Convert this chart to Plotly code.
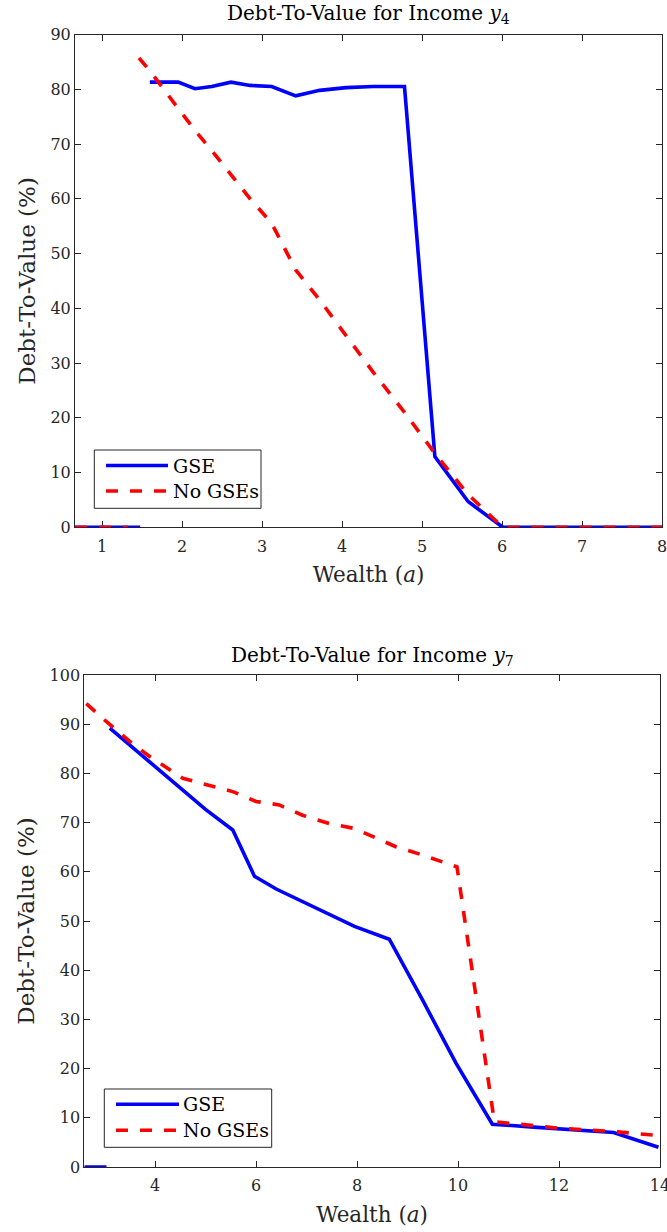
import plotly.graph_objects as go

# ---------------- data ----------------
# Income y4 (top panel)
wealth_gse_y4 = [0.66, 1.0, 1.32, 1.475, None, 1.596, 1.95, 2.16, 2.37, 2.61, 2.85, 3.12,
                 3.42, 3.72, 4.05, 4.39, 4.78, 5.16, 5.575, 6.01, 6.5, 7.0, 7.5, 8.0]
dtv_gse_y4 = [0, 0, 0, 0, None, 81.3, 81.3, 80.1, 80.5, 81.3, 80.7, 80.5,
              78.8, 79.8, 80.3, 80.5, 80.5, 12.9, 4.7, 0, 0, 0, 0, 0]

wealth_nogse_y4 = [0.66, 1.0, 1.32, None, 1.46, 1.6, 1.95, 2.16, 2.37, 2.61, 2.85, 3.12,
                   3.42, 3.72, 4.05, 4.39, 4.78, 5.16, 5.575, 6.01, 6.5, 7.0, 7.5, 8.0]
dtv_nogse_y4 = [0, 0, 0, None, 85.7, 83.3, 76.5, 72.5, 68.8, 64.5, 60.0, 55.5,
                47.0, 41.5, 35.0, 28.3, 21.0, 13.5, 6.0, 0, 0, 0, 0, 0]

# Income y7 (bottom panel)
wealth_gse_y7 = [2.6, 2.8, 3.04, None, 3.105, 4.0, 4.55, 5.0, 5.54, 5.97, 6.4, 6.86,
                 7.45, 7.95, 8.64, 9.3, 9.96, 10.68, 11.5, 12.3, 13.08, 13.97]
dtv_gse_y7 = [0, 0, 0, None, 89.2, 81.5, 76.8, 72.7, 68.5, 59.1, 56.5, 54.2,
              51.3, 48.9, 46.3, 33.9, 21.1, 8.7, 8.1, 7.6, 7.0, 4.0]

wealth_nogse_y7 = [2.64, 3.04, 3.5, 3.9, 4.55, 5.15, 5.54, 6.0, 6.46, 6.92, 7.45, 7.95,
                   8.38, 8.77, 9.3, 9.98, 10.72, 12.0, 13.08, 13.97]
dtv_nogse_y7 = [94.2, 90.5, 86.5, 83.4, 79.0, 77.3, 76.3, 74.3, 73.6, 71.5, 69.8, 68.8,
                66.8, 65.1, 63.4, 61.0, 9.2, 7.9, 7.2, 6.4]

series_names = ["GSE", "No GSEs"]
x_ticks_top = [1, 2, 3, 4, 5, 6, 7, 8]
y_ticks_top = list(range(0, 91, 10))
x_ticks_bot = [4, 6, 8, 10, 12, 14]
y_ticks_bot = list(range(0, 101, 10))

# ---------------- style ----------------
W, H = 667, 1232
FONT = "DejaVu Serif"
AX = "#262626"
BLUE = "#0000FF"
RED = "#FF0000"
LW = 3.6


def px(x):
    return x / W


def py(y):
    return 1 - y / H


fig = go.Figure()

fig.add_trace(go.Scatter(x=wealth_gse_y4, y=dtv_gse_y4, mode="lines", name=series_names[0],
                         line=dict(color=BLUE, width=LW), cliponaxis=False,
                         connectgaps=False, showlegend=False, xaxis="x", yaxis="y"))
fig.add_trace(go.Scatter(x=wealth_nogse_y4, y=dtv_nogse_y4, mode="lines", name=series_names[1],
                         line=dict(color=RED, width=LW, dash="12px,12px"), cliponaxis=False,
                         connectgaps=False, showlegend=False, xaxis="x", yaxis="y"))
fig.add_trace(go.Scatter(x=wealth_gse_y7, y=dtv_gse_y7, mode="lines", name=series_names[0],
                         line=dict(color=BLUE, width=LW), cliponaxis=False,
                         connectgaps=False, showlegend=False, xaxis="x2", yaxis="y2"))
fig.add_trace(go.Scatter(x=wealth_nogse_y7, y=dtv_nogse_y7, mode="lines", name=series_names[1],
                         line=dict(color=RED, width=LW, dash="12px,12px"), cliponaxis=False,
                         connectgaps=False, showlegend=False, xaxis="x2", yaxis="y2"))

axis_common = dict(showline=True, linecolor=AX, linewidth=1, mirror="ticks", ticks="inside",
                   ticklen=6, tickwidth=1, tickcolor=AX, showgrid=False, zeroline=False,
                   automargin=False, ticklabeloverflow="allow",
                   tickfont=dict(family=FONT, size=16, color=AX), layer="below traces")
xlab_font = dict(family=FONT, size=21.5, color=AX)
ylab_font = dict(family=FONT, size=23, color=AX)

top_l, top_r, top_t, top_b = 75, 662, 34.5, 527.3
bot_l, bot_r, bot_t, bot_b = 84.3, 660, 675, 1167

fig.update_layout(
    template="none",
    width=W, height=H, margin=dict(l=0, r=0, t=0, b=0, pad=0),
    paper_bgcolor="white", plot_bgcolor="white", showlegend=False,
    xaxis=dict(axis_common, domain=[px(top_l), px(top_r)], range=[0.66, 8],
               tickvals=x_ticks_top, anchor="y", ticklabelstandoff=4,
               title=dict(text="Wealth (<i>a</i>)", font=xlab_font, standoff=12)),
    yaxis=dict(axis_common, domain=[py(top_b), py(top_t)], range=[0, 90],
               tickvals=y_ticks_top, anchor="x",
               title=dict(text="Debt-To-Value (%)", font=ylab_font, standoff=8)),
    xaxis2=dict(axis_common, domain=[px(bot_l), px(bot_r)], range=[2.6, 14],
                tickvals=x_ticks_bot, anchor="y2", ticklabelstandoff=4,
                title=dict(text="Wealth (<i>a</i>)", font=xlab_font, standoff=12)),
    yaxis2=dict(axis_common, domain=[py(bot_b), py(bot_t)], range=[0, 100],
                tickvals=y_ticks_bot, anchor="x2",
                title=dict(text="Debt-To-Value (%)", font=ylab_font, standoff=8)),
)

# titles
fig.add_annotation(text="Debt-To-Value for Income <i>y</i><sub>4</sub>", xref="paper", yref="paper",
                   x=px((top_l + top_r) / 2), y=py(29), xanchor="center", yanchor="bottom",
                   showarrow=False, font=dict(family=FONT, size=20, color="black"))
fig.add_annotation(text="Debt-To-Value for Income <i>y</i><sub>7</sub>", xref="paper", yref="paper",
                   x=px((bot_l + bot_r) / 2), y=py(671), xanchor="center", yanchor="bottom",
                   showarrow=False, font=dict(family=FONT, size=20, color="black"))


# legends (drawn as boxes with line samples and text)
def add_legend(bx0, by0, bx1, by1, lx0, lx1, ly1, ly2, tx):
    fig.add_shape(type="rect", xref="paper", yref="paper", x0=px(bx0), x1=px(bx1),
                  y0=py(by1), y1=py(by0), line=dict(color=AX, width=1), fillcolor="white")
    fig.add_shape(type="line", xref="paper", yref="paper", x0=px(lx0), x1=px(lx1),
                  y0=py(ly1), y1=py(ly1), line=dict(color=BLUE, width=LW))
    fig.add_shape(type="line", xref="paper", yref="paper", x0=px(lx0), x1=px(lx1),
                  y0=py(ly2), y1=py(ly2), line=dict(color=RED, width=LW, dash="12px,12px"))
    for name, yy in zip(series_names, [ly1, ly2]):
        fig.add_annotation(text=name, xref="paper", yref="paper", x=px(tx), y=py(yy),
                           xanchor="left", yanchor="middle", showarrow=False,
                           font=dict(family=FONT, size=19, color="black"))


add_legend(94.3, 450, 261, 508.3, 106, 168, 465.5, 491, 171)
add_legend(104.3, 1089, 271.7, 1147.3, 116, 179, 1104.3, 1130.3, 181)

fig.write_html("out.html")
